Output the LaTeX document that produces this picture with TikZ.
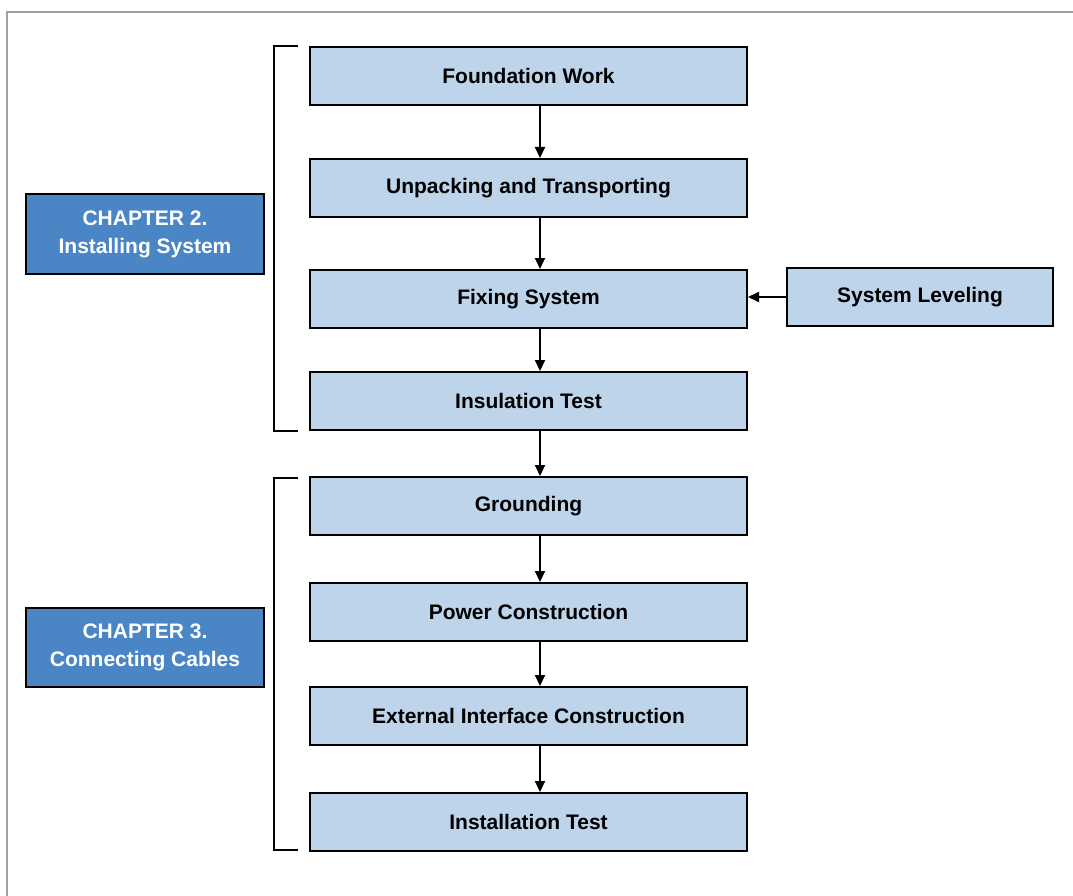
\documentclass[tikz,border=0pt]{standalone}
\usepackage{fontspec}
\setmainfont{Liberation Sans}
\usetikzlibrary{arrows.meta}
\definecolor{stepblue}{RGB}{189,212,234}
\definecolor{chapblue}{RGB}{74,134,197}
\definecolor{framegray}{RGB}{160,160,160}
\tikzset{
every picture/.style={
line width=2pt
}}

\begin{document}
\begin{tikzpicture}[x=1pt, y=-1pt,
stepbox/.style = {rectangle, draw=black, fill=stepblue, minimum width=437pt, minimum height=58pt, inner sep=0pt, font=\fontsize{21}{25}\selectfont\bfseries},
chapbox/.style = {rectangle, draw=black, fill=chapblue, text=white, minimum width=238pt, minimum height=79pt, inner sep=0pt, align=center, font=\fontsize{21}{28}\selectfont\bfseries},
flow/.style = {-{Triangle[length=11pt,width=10pt]}}]

\useasboundingbox (0,0) rectangle (1073,896);
\draw[framegray, line width=2.4pt] (7,896) -- (7,12) -- (1073,12);

\node[stepbox] (fw) at (528.5,76) {Foundation Work};
\node[stepbox] (up) at (528.5,188) {Unpacking and Transporting};
\node[stepbox] (fs) at (528.5,299) {Fixing System};
\node[stepbox] (it) at (528.5,401) {Insulation Test};
\node[stepbox] (gr) at (528.5,506) {Grounding};
\node[stepbox] (pc) at (528.5,612) {Power Construction};
\node[stepbox] (ei) at (528.5,716) {External Interface Construction};
\node[stepbox] (ins) at (528.5,822) {Installation Test};

\node[stepbox, minimum width=266pt] (sl) at (920,297) {System Leveling};

\node[chapbox] (ch2) at (145,234) {CHAPTER 2.\\Installing System};
\node[chapbox] (ch3) at (145,647) {CHAPTER 3.\\Connecting Cables};

\draw [flow] ([xshift=11.5pt]fw.south) -- ([xshift=11.5pt]up.north);
\draw [flow] ([xshift=11.5pt]up.south) -- ([xshift=11.5pt]fs.north);
\draw [flow] ([xshift=11.5pt]fs.south) -- ([xshift=11.5pt]it.north);
\draw [flow] ([xshift=11.5pt]it.south) -- ([xshift=11.5pt]gr.north);
\draw [flow] ([xshift=11.5pt]gr.south) -- ([xshift=11.5pt]pc.north);
\draw [flow] ([xshift=11.5pt]pc.south) -- ([xshift=11.5pt]ei.north);
\draw [flow] ([xshift=11.5pt]ei.south) -- ([xshift=11.5pt]ins.north);
\draw [flow] (sl.west) -- (sl.west -| fs.east);

% chapter brackets
\draw ([xshift=-11pt]fw.north west) -- ++(-24,0) |- ([xshift=-11pt]it.south west);
\draw ([xshift=-11pt,yshift=-2pt]gr.north west) -- ++(-24,0) |- ([xshift=-11pt,yshift=2pt]ins.south west);
\end{tikzpicture}
\end{document}
